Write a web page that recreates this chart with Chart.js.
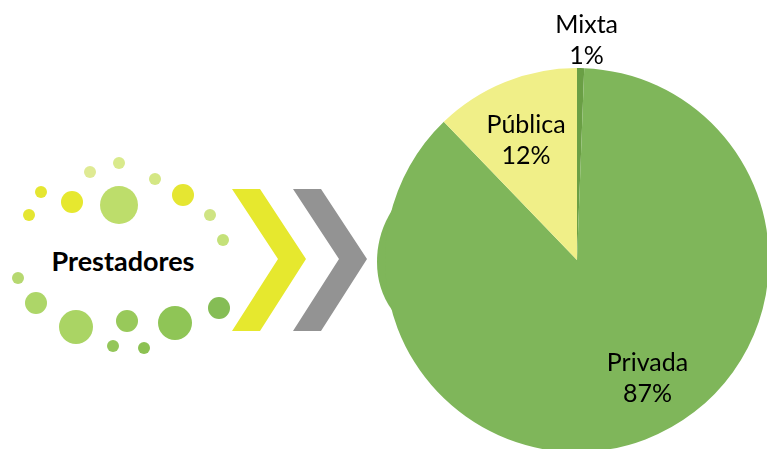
<!DOCTYPE html>
<html><head><meta charset="utf-8">
<script src="https://cdn.jsdelivr.net/npm/chart.js@4"></script>
<style>
html,body{margin:0;padding:0;background:#fff;overflow:hidden;width:767px;height:449px;}
#deco{position:absolute;left:0;top:0;}
#wrap{position:absolute;left:377px;top:0;width:400px;height:460px;}
</style></head><body>
<svg id="deco" width="767" height="449" xmlns="http://www.w3.org/2000/svg">
  <g id="dots"></g>
  <polygon points="232,189 260,189 306,259 260,331 232,331 278,259" fill="#e6e82e"/>
  <polygon points="293,189 321,189 367,259 321,331 293,331 339,259" fill="#939393"/>
  <text x="123" y="271" text-anchor="middle" font-family="Lato" font-weight="bold" font-size="27" fill="#000">Prestadores</text>
  <path d="M392,210 C381,228 377,245 377,262 C377,280 382,296 392,310 L420,310 L420,210 Z" fill="#7fb65a"/>
</svg>
<div id="wrap"><canvas id="c" width="400" height="460"></canvas></div>
<script>
const categories = ["Mixta", "Privada", "Pública"];
const values = [0.6, 87.2, 12.2];
const colors = ["#6a9f45", "#7fb65a", "#f0ef88"];

// decorative dots (not data)
const dots = [
  [119,163,6,"#d9ea8c"],[90,172,6,"#dfea93"],[155,179,6,"#d4e784"],
  [41,192,6,"#e5e631"],[72,202,11,"#e6e82f"],[119,205,19,"#bddd6b"],
  [183,195,11,"#e5e632"],[29,215,6,"#e5e631"],[210,215,6,"#cfe483"],
  [223,240,6,"#c4e179"],[18,278,6,"#b6d870"],[36,303,11,"#add668"],
  [76,327,17,"#aad464"],[127,321,11,"#98c95a"],[175,323,17,"#8fc556"],
  [219,308,11,"#85bd55"],[113,346,6,"#94c65a"],[144,348,6,"#8cc152"]
];
const g = document.getElementById('dots');
dots.forEach(d => {
  const c = document.createElementNS('http://www.w3.org/2000/svg','circle');
  c.setAttribute('cx', d[0]); c.setAttribute('cy', d[1]); c.setAttribute('r', d[2]); c.setAttribute('fill', d[3]);
  g.appendChild(c);
});

const labelPlugin = {
  id: 'pieLabels',
  afterDatasetsDraw(chart, args, opts) {
    const ctx = chart.ctx;
    const meta = chart.getDatasetMeta(0);
    const total = values.reduce((a,b)=>a+b,0);
    ctx.save();
    ctx.font = opts.font;
    ctx.fillStyle = '#000';
    ctx.textAlign = 'center';
    ctx.textBaseline = 'alphabetic';
    meta.data.forEach((arc, i) => {
      const p = opts.place[i];
      const mid = (arc.startAngle + arc.endAngle) / 2 + p.shift * Math.PI / 180;
      const r = arc.outerRadius * p.f;
      const x = arc.x + Math.cos(mid) * r;
      const y = arc.y + Math.sin(mid) * r;
      const pct = Math.round(values[i] / total * 100) + '%';
      ctx.fillText(categories[i], x, y - opts.gap / 2 + 1);
      ctx.fillText(pct, x, y + opts.gap / 2 + 1);
    });
    ctx.restore();
  }
};

new Chart(document.getElementById('c'), {
  type: 'pie',
  data: {
    labels: categories,
    datasets: [{ data: values, backgroundColor: colors, borderWidth: 0 }]
  },
  options: {
    responsive: false,
    animation: false,
    devicePixelRatio: 1,
    layout: { padding: { top: 68, left: 8, right: 8, bottom: 8 } },
    plugins: {
      legend: { display: false },
      tooltip: { enabled: false },
      pieLabels: {
        font: '25px Lato',
        gap: 31,
        place: [ {shift: 1.5, f: 1.109}, {shift: -8.4, f: 0.75}, {shift: -2.5, f: 0.641} ]
      }
    }
  },
  plugins: [labelPlugin]
});
</script>
</body></html>
